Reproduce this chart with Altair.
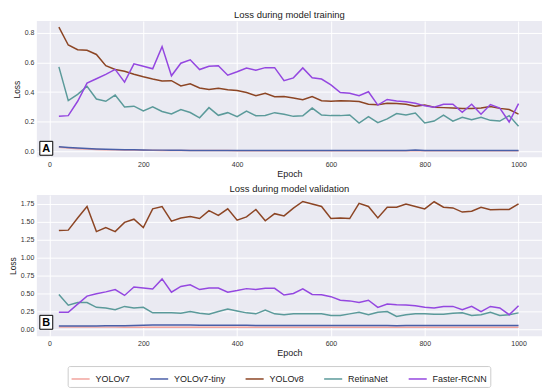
import altair as alt
import pandas as pd

epochs = [20, 40, 60, 80, 100, 120, 140, 160, 180, 200,
          220, 240, 260, 280, 300, 320, 340, 360, 380, 400,
          420, 440, 460, 480, 500, 520, 540, 560, 580, 600,
          620, 640, 660, 680, 700, 720, 740, 760, 780, 800,
          820, 840, 860, 880, 900, 920, 940, 960, 980, 1000]

models = ["YOLOv7", "YOLOv7-tiny", "YOLOv8", "RetinaNet", "Faster-RCNN"]
colors = ["#f2a49e", "#4a5fa8", "#8c4524", "#5b9a9a", "#9447e0"]

x_ticks = [0, 200, 400, 600, 800, 1000]
train_ticks = [0.0, 0.2, 0.4, 0.6, 0.8]
val_ticks = [0.0, 0.25, 0.5, 0.75, 1.0, 1.25, 1.5, 1.75]

# ---- training loss ----
yolov7_train = [0.027, 0.022, 0.018, 0.015, 0.013, 0.011, 0.010, 0.009, 0.008, 0.007,
                0.007, 0.006, 0.006, 0.006, 0.005, 0.005, 0.005, 0.005, 0.005, 0.004,
                0.004, 0.004, 0.004, 0.004, 0.004, 0.004, 0.004, 0.004, 0.004, 0.004,
                0.004, 0.004, 0.004, 0.004, 0.004, 0.004, 0.004, 0.004, 0.004, 0.004,
                0.004, 0.004, 0.004, 0.004, 0.004, 0.004, 0.004, 0.004, 0.004, 0.004]
yolov7tiny_train = [0.030, 0.026, 0.022, 0.019, 0.016, 0.014, 0.012, 0.011, 0.010, 0.009,
                    0.008, 0.008, 0.007, 0.007, 0.006, 0.006, 0.006, 0.005, 0.005, 0.005,
                    0.005, 0.005, 0.005, 0.005, 0.005, 0.005, 0.005, 0.005, 0.005, 0.005,
                    0.005, 0.005, 0.005, 0.005, 0.005, 0.005, 0.005, 0.006, 0.009, 0.005,
                    0.005, 0.005, 0.005, 0.005, 0.005, 0.005, 0.005, 0.005, 0.005, 0.005]
yolov8_train = [0.839, 0.718, 0.686, 0.682, 0.654, 0.578, 0.553, 0.540, 0.520, 0.503,
                0.488, 0.475, 0.477, 0.442, 0.456, 0.428, 0.417, 0.426, 0.415, 0.410,
                0.397, 0.376, 0.392, 0.369, 0.370, 0.360, 0.348, 0.370, 0.342, 0.338,
                0.342, 0.340, 0.336, 0.318, 0.314, 0.325, 0.323, 0.318, 0.305, 0.313,
                0.297, 0.295, 0.292, 0.289, 0.289, 0.293, 0.303, 0.290, 0.282, 0.251]
retina_train = [0.570, 0.342, 0.385, 0.439, 0.353, 0.338, 0.380, 0.300, 0.305, 0.273,
                0.300, 0.269, 0.252, 0.282, 0.262, 0.226, 0.295, 0.243, 0.261, 0.234,
                0.272, 0.240, 0.242, 0.261, 0.250, 0.236, 0.240, 0.292, 0.245, 0.241,
                0.241, 0.245, 0.191, 0.234, 0.193, 0.219, 0.255, 0.245, 0.258, 0.191,
                0.204, 0.245, 0.204, 0.230, 0.213, 0.230, 0.209, 0.204, 0.241, 0.170]
frcnn_train = [0.237, 0.241, 0.338, 0.460, 0.490, 0.520, 0.553, 0.467, 0.591, 0.574,
               0.557, 0.707, 0.510, 0.595, 0.618, 0.552, 0.574, 0.578, 0.514, 0.537,
               0.562, 0.547, 0.565, 0.565, 0.477, 0.496, 0.563, 0.497, 0.488, 0.449,
               0.397, 0.392, 0.376, 0.402, 0.312, 0.350, 0.340, 0.335, 0.325, 0.307,
               0.298, 0.318, 0.318, 0.264, 0.318, 0.250, 0.316, 0.292, 0.198, 0.322]

# ---- validation loss ----
yolov7_val = [0.030, 0.029, 0.028, 0.028, 0.027, 0.027, 0.027, 0.026, 0.026, 0.026,
              0.026, 0.026, 0.026, 0.026, 0.025, 0.025, 0.025, 0.025, 0.025, 0.025,
              0.025, 0.025, 0.025, 0.025, 0.025, 0.025, 0.025, 0.025, 0.025, 0.025,
              0.025, 0.025, 0.025, 0.025, 0.025, 0.025, 0.025, 0.025, 0.025, 0.025,
              0.025, 0.025, 0.025, 0.025, 0.025, 0.025, 0.025, 0.025, 0.025, 0.025]
yolov7tiny_val = [0.041, 0.041, 0.041, 0.042, 0.044, 0.046, 0.047, 0.047, 0.049, 0.052,
                  0.056, 0.058, 0.057, 0.056, 0.055, 0.054, 0.053, 0.052, 0.052, 0.052,
                  0.052, 0.051, 0.051, 0.051, 0.051, 0.051, 0.051, 0.051, 0.051, 0.051,
                  0.051, 0.051, 0.051, 0.051, 0.051, 0.051, 0.046, 0.051, 0.051, 0.051,
                  0.051, 0.051, 0.051, 0.051, 0.051, 0.051, 0.051, 0.051, 0.051, 0.051]
yolov8_val = [1.375, 1.380, 1.550, 1.710, 1.360, 1.416, 1.360, 1.488, 1.533, 1.416,
              1.677, 1.710, 1.506, 1.550, 1.569, 1.542, 1.652, 1.587, 1.677, 1.520,
              1.564, 1.668, 1.510, 1.610, 1.578, 1.686, 1.780, 1.745, 1.710, 1.542,
              1.550, 1.542, 1.754, 1.710, 1.550, 1.700, 1.700, 1.745, 1.710, 1.677,
              1.776, 1.700, 1.690, 1.632, 1.645, 1.700, 1.664, 1.668, 1.668, 1.745]
retina_val = [0.483, 0.334, 0.370, 0.370, 0.303, 0.294, 0.271, 0.316, 0.294, 0.303,
              0.226, 0.226, 0.226, 0.222, 0.244, 0.222, 0.208, 0.244, 0.280, 0.253,
              0.226, 0.212, 0.266, 0.212, 0.199, 0.212, 0.212, 0.212, 0.212, 0.190,
              0.190, 0.212, 0.235, 0.199, 0.235, 0.244, 0.176, 0.199, 0.212, 0.212,
              0.208, 0.208, 0.222, 0.226, 0.190, 0.199, 0.235, 0.190, 0.199, 0.226]
frcnn_val = [0.235, 0.235, 0.347, 0.460, 0.492, 0.519, 0.551, 0.469, 0.586, 0.573,
             0.560, 0.700, 0.514, 0.595, 0.618, 0.551, 0.573, 0.573, 0.514, 0.537,
             0.564, 0.551, 0.569, 0.569, 0.474, 0.497, 0.560, 0.483, 0.479, 0.452,
             0.402, 0.393, 0.370, 0.402, 0.303, 0.348, 0.339, 0.334, 0.325, 0.303,
             0.294, 0.316, 0.316, 0.271, 0.316, 0.244, 0.316, 0.294, 0.200, 0.325]

train = dict(zip(models, [yolov7_train, yolov7tiny_train, yolov8_train, retina_train, frcnn_train]))
val = dict(zip(models, [yolov7_val, yolov7tiny_val, yolov8_val, retina_val, frcnn_val]))

FONT = "Liberation Sans"
W = 508


def to_long(d):
    rows = []
    for i, m in enumerate(models):
        for e, v in zip(epochs, d[m]):
            rows.append({"Epoch": e, "Loss": v, "Model": m, "ord": i})
    return pd.DataFrame(rows)


def panel(d, title, ydom, yticks, yfmt, label, h, label_bottom):
    df = to_long(d)
    lines = alt.Chart(df).mark_line(strokeWidth=1.5, clip=True).encode(
        x=alt.X("Epoch:Q",
                scale=alt.Scale(domain=[-27, 1050], nice=False, zero=False),
                axis=alt.Axis(values=x_ticks, title="Epoch", format="d")),
        y=alt.Y("Loss:Q",
                scale=alt.Scale(domain=ydom, nice=False, zero=False),
                axis=alt.Axis(values=yticks, format=yfmt, title="Loss")),
        color=alt.Color("Model:N",
                        scale=alt.Scale(domain=models, range=colors),
                        sort=models,
                        legend=alt.Legend(title=None, orient="none", direction="horizontal",
                                          legendX=31, legendY=347)),
        order="ord:Q",
    )
    lab = pd.DataFrame({"t": [label]})
    box = alt.Chart(lab).mark_rect(fill="white", stroke="black", strokeWidth=1).encode(
        x=alt.value(3), x2=alt.value(16),
        y=alt.value(h - label_bottom - 14), y2=alt.value(h - label_bottom),
    )
    txt = alt.Chart(lab).mark_text(font=FONT, fontSize=11, fontWeight="bold",
                                   color="black", align="center", baseline="middle").encode(
        x=alt.value(9.5), y=alt.value(h - label_bottom - 6.5), text="t:N",
    )
    return alt.layer(lines, box, txt).properties(
        width=W, height=h,
        title=alt.TitleParams(title, fontSize=9.5, font=FONT, fontWeight="normal",
                              anchor="middle", offset=2, color="#222"),
    )


top = panel(train, "Loss during model training", [-0.04, 0.88], train_ticks, ".1f", "A", 137, 2)
bottom = panel(val, "Loss during model validation", [-0.1, 1.87], val_ticks, ".2f", "B", 142, 7)

chart = alt.vconcat(top, bottom, spacing=5).configure(
    padding=0,
    font=FONT,
).configure_view(
    fill="#eaeaf2", stroke=None,
).configure_axis(
    domain=False, ticks=False, grid=True, gridColor="white", gridWidth=1,
    labelFont=FONT, labelFontSize=7, labelColor="#333", labelPadding=3,
    titleFont=FONT, titleFontSize=8.5, titleFontWeight="normal", titleColor="#222",
    titlePadding=3,
).configure_axisX(
    titleFontSize=9, titlePadding=2,
).configure_legend(
    symbolType="stroke",
    symbolStrokeWidth=1.5, symbolSize=330, labelFont=FONT, labelFontSize=9,
    labelColor="#222", labelOffset=5, gridAlign="each", columnPadding=16,
    strokeColor="#cccccc", padding=3, cornerRadius=2,
)

chart.save("out.html", embed_options={"renderer": "svg", "actions": False})
